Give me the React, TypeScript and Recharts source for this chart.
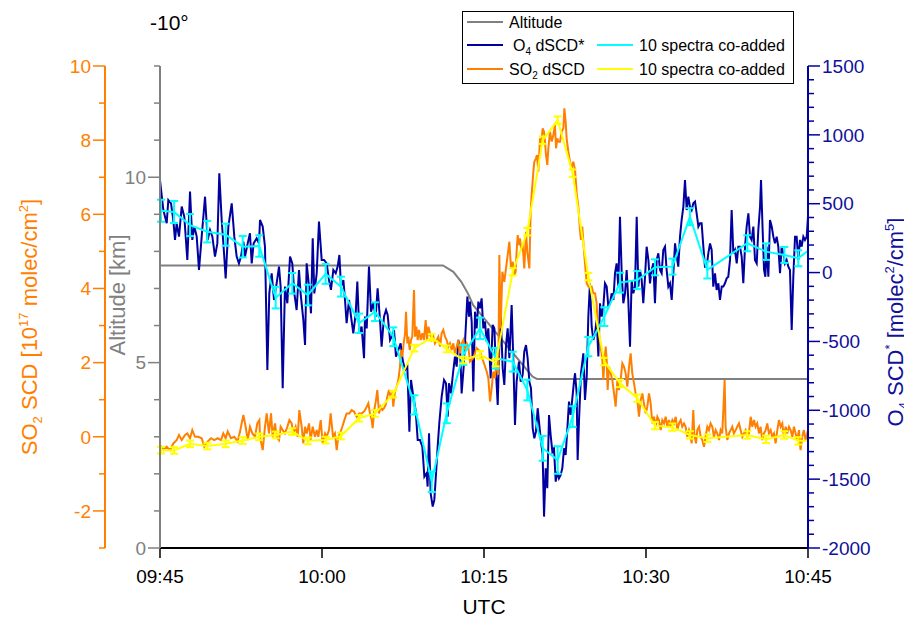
import React from 'react';
import { LineChart, Line, XAxis, YAxis, ErrorBar } from 'recharts';

// ---------- ticks ----------
const TIME_TICKS = [0, 15, 30, 45, 60];
const TIME_LABELS = ['09:45', '10:00', '10:15', '10:30', '10:45'];
const SO2_TICKS = [-3, -2, -1, 0, 1, 2, 3, 4, 5, 6, 7, 8, 9, 10];
const SO2_LABELED = [-2, 0, 2, 4, 6, 8, 10];
const ALT_TICKS = [0, 1, 2, 3, 4, 5, 6, 7, 8, 9, 10, 11, 12, 13];
const ALT_LABELED = [0, 5, 10];
const O4_TICKS = [-2000, -1900, -1800, -1700, -1600, -1500, -1400, -1300, -1200, -1100, -1000, -900, -800, -700, -600, -500, -400, -300, -200, -100, 0, 100, 200, 300, 400, 500, 600, 700, 800, 900, 1000, 1100, 1200, 1300, 1400, 1500];
const O4_LABELED = [-2000, -1500, -1000, -500, 0, 500, 1000, 1500];

// ---------- data (t = minutes after 09:45) ----------
const ALTITUDE: [number, number][] = [
  [0, 7.62], [26.2, 7.62], [27.16, 7.45], [27.9, 7.18], [28.5, 6.87], [29.0, 6.55], [34.5, 4.62], [34.9, 4.56], [60, 4.56],
];

const O4_RAW: [number, number][] = [
  [0, 672], [0.31, 454], [0.62, 358], [0.77, 527], [1.02, 503], [1.23, 382], [1.39, 237], [1.54, 358], [1.76, 261], [2.01, 479], [2.25, 406], [2.53, 92], [2.78, 588], [2.99, 237], [3.18, 334], [3.4, 261], [3.61, 19], [3.86, 261], [4.17, 551], [4.41, 237], [4.63, 309], [4.85, 261], [5.09, 116], [5.31, 212], [5.49, 721], [5.71, 382], [5.93, 140], [6.08, -42], [6.33, 334], [6.64, 503], [6.88, 261], [7.1, 116], [7.31, 67], [7.5, 116], [7.72, 224], [7.87, 116], [8.12, 212], [8.33, 285], [8.49, 67], [8.67, 212], [8.95, 249], [9.17, 212],
  [9.26, 382], [9.51, 334], [9.72, 188], [9.94, -707], [10.12, -151], [10.34, -5], [10.56, -199], [10.8, -78], [11.02, 43], [11.17, -102], [11.36, -840], [11.57, -102], [11.79, -223], [12.04, 116], [12.25, 67], [12.44, -151], [12.65, -272], [12.87, 19], [13.02, -151], [13.27, -344], [13.43, -526], [13.58, 67], [13.8, -102], [13.98, -296], [14.14, 249], [14.29, -151], [14.51, -5], [14.72, 370], [14.97, 92], [15.19, 92], [15.43, 67], [15.65, -54], [15.83, -126], [16.05, 19], [16.27, -5], [16.45, 43], [16.61, 128], [16.76, -102], [16.98, -54], [17.13, -199], [17.28, -368], [17.5, -199], [17.69, -320], [17.9, -441], [18.12, -296], [18.27, -66], [18.46, -441], [18.67, -393], [18.89, -622],
  [18.98, -320], [19.14, -405], [19.35, 43], [19.54, -284], [19.75, -223], [19.97, -320], [20.15, -114], [20.37, -344], [20.52, -538], [20.74, -320], [20.93, -272], [21.08, -308], [21.3, -489], [21.45, -465], [21.67, -417], [21.85, -610], [22.07, -562], [22.28, -514], [22.47, -635], [22.69, -707], [22.9, -683], [23.09, -1155], [23.24, -780], [23.46, -901], [23.67, -998], [23.86, -1215], [24.07, -1215], [24.29, -1264], [24.48, -1482], [24.69, -1457], [24.78, -1554], [24.91, -1167], [25.06, -1603], [25.25, -1699], [25.4, -1651], [25.56, -1457], [25.71, -1264], [25.86, -1094], [26.08, -901], [26.3, -780], [26.48, -804], [26.64, -1046], [26.76, -804], [26.94, -877], [27.13, -731], [27.31, -610], [27.47, -683], [27.62, -489], [27.78, -538], [27.93, -877], [28.12, -683], [28.3, -417], [28.46, -175], [28.61, -320],
  [28.7, -211], [28.86, -356], [29.01, -864], [29.17, -284], [29.32, -405], [29.48, -211], [29.63, -260], [29.78, -187], [29.94, -405], [30.09, -356], [30.25, -501], [30.4, -405], [30.62, -768], [30.8, -380], [30.96, -405], [31.11, -719], [31.27, -961], [31.42, -526], [31.54, -284], [31.73, -695], [31.88, -816], [32.04, -526], [32.19, -405], [32.35, -622], [32.56, -235], [32.72, -647], [32.87, -1106], [33.02, -792], [33.24, -647], [33.4, -792], [33.58, -743], [33.73, -574], [33.89, -526], [34.04, -622], [34.2, -792], [34.35, -840], [34.51, -1131], [34.66, -1203], [34.81, -1155], [34.97, -985], [35.12, -1106], [35.28, -1227], [35.43, -1324], [35.56, -1772], [35.71, -1421], [35.86, -1566], [36.02, -1034], [36.17, -1179], [36.33, -1300], [36.48, -1276], [36.64, -1518], [36.79, -1445], [36.94, -1494], [37.1, -1469], [37.25, -1421], [37.41, -1276], [37.56, -1324], [37.72, -1131], [37.87, -937], [38.02, -1034], [38.18, -913], [38.33, -792],
  [38.43, -731], [38.58, -876], [38.67, -1361], [38.8, -1070], [38.98, -731], [39.2, -586], [39.35, -925], [39.51, -756], [39.66, -320], [39.81, -78], [39.97, -393], [40.12, -489], [40.28, -441], [40.43, -344], [40.59, -610], [40.74, -223], [40.9, -320], [41.05, -247], [41.2, -78], [41.36, -102], [41.51, -247], [41.67, -223], [41.82, -151], [41.98, -199], [42.13, -5], [42.28, 67], [42.44, -102], [42.59, 406], [42.75, -5], [42.9, -223], [43.06, -151], [43.21, 19], [43.36, -199], [43.52, -538], [43.67, -54], [43.83, -151], [43.98, -102], [44.14, 406], [44.29, -102], [44.44, 19], [44.6, -54], [44.75, -223], [44.91, -30], [45.06, 188], [45.22, 92], [45.37, -78], [45.52, 19], [45.68, 67], [45.83, -223], [45.99, 92], [46.14, 140], [46.3, 19], [46.45, -5], [46.6, 164], [46.76, 188], [46.91, 19], [47.07, -102], [47.22, -78], [47.38, -199], [47.53, -5], [47.69, 212], [47.84, 116], [47.99, 43], [48.15, 261], [48.3, 382], [48.46, 479], [48.61, 672], [48.77, 454], [48.92, 551],
  [49.07, 479], [49.23, 454], [49.38, 503], [49.54, 515], [49.69, 430], [49.85, 334], [50.0, 358], [50.15, 358], [50.31, 188], [50.46, 43], [50.62, 43], [50.77, 140], [50.93, 212], [51.08, 164], [51.23, -102], [51.39, -5], [51.54, -126], [51.7, -78], [51.85, -199], [52.01, -102], [52.16, -102], [52.31, -78], [52.47, -42], [52.62, -30], [52.78, 92], [52.93, 454], [53.09, 140], [53.24, 164], [53.4, 67], [53.55, 188], [53.7, 188], [53.86, 116], [54.01, -78], [54.17, 188], [54.32, 334], [54.48, 430], [54.63, 261], [54.78, 237], [54.94, 334], [55.09, 92], [55.25, 67], [55.4, 309], [55.56, 479], [55.65, 672], [55.8, 309], [55.93, 19], [56.05, -30], [56.17, 188], [56.33, -30], [56.48, 382], [56.64, 334], [56.79, 261], [56.94, 212], [57.1, 261], [57.25, 188], [57.41, -5], [57.56, 188], [57.72, 140], [57.87, 67], [58.02, 92], [58.18, 43], [58.33, 19], [58.49, -417], [58.64, -30], [58.8, 261], [58.95, 261], [59.1, 92], [59.26, 237], [59.41, 188], [59.57, 261], [59.72, 237], [59.88, 261], [60, 406],
];

const O4_AVG: [number, number, number][] = [
  [0.09, 449, 80], [1.3, 440, 80], [2.78, 345, 80], [4.38, 297, 78], [6.08, 275, 80], [7.66, 188, 78], [9.19, 193, 78], [10.71, -182, 78], [12.25, -78, 75], [13.68, -163, 75], [15.34, -10, 72], [16.76, -102, 72], [18.43, -368, 70], [19.91, -284, 68], [21.6, -466, 68], [23.55, -961, 70], [25.16, -1518, 75], [26.55, -1022, 72], [28.08, -598, 72], [29.63, -405, 78], [31.08, -622, 75], [32.66, -647, 72], [34.01, -853, 75], [35.44, -1276, 90], [36.82, -1361, 100], [38.21, -1046, 75], [39.66, -538, 70], [41.14, -320, 68], [42.59, -73, 72], [44.19, -54, 65], [45.83, 38, 58], [47.44, 43, 58], [49.07, 406, 62], [50.68, 19, 62], [54.38, 213, 58], [56.11, 152, 60], [57.81, 128, 58], [59.1, 104, 58], [60, 159, 0],
];

const SO2_RAW: [number, number][] = [
  [0, -0.22], [0.31, -0.36], [0.62, -0.27], [0.93, -0.36], [1.23, -0.18], [1.54, -0.09], [1.76, 0.05], [2.01, -0.09], [2.32, 0.05], [2.53, 0.09], [2.78, -0.04], [2.99, 0.18], [3.24, 0.0], [3.55, 0.0], [3.86, -0.04], [4.11, -0.27], [4.41, -0.13], [4.72, -0.04], [5.02, -0.09], [5.34, -0.04], [5.65, -0.09], [5.86, 0.09], [6.08, -0.04], [6.27, 0.14], [6.57, -0.04], [6.88, 0.0], [7.19, -0.13], [7.41, 0.14], [7.72, 0.59], [7.93, 0.27], [8.12, -0.09], [8.33, 0.27], [8.55, 0.09], [8.8, 0.0], [9.01, 0.36], [9.2, 0.45],
  [9.26, 0.0], [9.51, -0.36], [9.72, 0.27], [9.88, 0.63], [10.09, 0.09], [10.28, 0.63], [10.43, 0.0], [10.65, 0.36], [10.8, 0.0], [11.02, -0.09], [11.17, 0.27], [11.36, 0.18], [11.57, 0.09], [11.79, 0.27], [11.98, 0.45], [12.19, 0.36], [12.35, 0.09], [12.56, 0.27], [12.75, 0.0], [12.9, 0.72], [13.12, 0.27], [13.27, -0.18], [13.43, 0.27], [13.58, 0.09], [13.8, 0.36], [13.95, -0.09], [14.14, 0.27], [14.35, 0.0], [14.51, 0.18], [14.66, 0.0], [14.88, 0.45], [15.06, -0.18], [15.28, 0.09], [15.43, 0.0], [15.65, 0.18], [15.8, 0.63], [16.02, 0.0], [16.2, 0.09], [16.36, -0.36], [16.51, 0.0], [16.67, 0.09], [16.88, 0.27], [17.07, 0.45], [17.28, 0.63], [17.53, 0.63], [17.75, 0.72], [17.96, 0.68], [18.21, 0.54], [18.43, 0.63], [18.67, 0.63], [18.89, 0.68],
  [18.98, 0.72], [19.14, 0.81], [19.29, 0.9], [19.44, 0.63], [19.6, 0.45], [19.69, 0.23], [19.84, 0.72], [20.0, 0.99], [20.12, 1.26], [20.28, 0.63], [20.43, 0.81], [20.59, 0.72], [20.74, 0.77], [20.9, 0.86], [21.05, 1.08], [21.2, 1.26], [21.36, 1.08], [21.51, 1.17], [21.6, 0.81], [21.76, 1.22], [21.91, 1.35], [22.07, 1.53], [22.22, 1.89], [22.31, 2.34], [22.44, 2.16], [22.56, 2.52], [22.69, 2.79], [22.78, 3.37], [22.9, 2.52], [22.99, 2.7], [23.12, 2.34], [23.24, 2.61], [23.36, 2.7], [23.52, 3.96], [23.61, 2.7], [23.73, 2.97], [23.86, 2.61], [23.98, 2.88], [24.14, 2.61], [24.29, 2.79], [24.44, 2.61], [24.6, 3.15], [24.72, 2.61], [24.85, 2.97], [25.0, 2.79], [25.15, 2.61], [25.31, 2.7], [25.46, 2.52], [25.62, 2.61], [25.77, 2.7], [25.93, 2.43], [26.08, 2.79], [26.23, 2.88], [26.39, 2.7], [26.54, 2.61], [26.7, 2.43], [26.85, 2.52], [27.01, 2.34], [27.16, 2.52], [27.31, 2.25], [27.47, 2.43], [27.62, 2.61], [27.78, 2.25], [27.93, 2.52], [28.09, 2.61], [28.24, 2.34], [28.4, 2.52], [28.55, 2.43],
  [28.7, 2.03], [29.01, 2.12], [29.32, 2.39], [29.63, 2.3], [29.94, 2.03], [30.25, 1.76], [30.4, 1.58], [30.56, 0.95], [30.71, 1.31], [30.86, 1.76], [31.02, 1.58], [31.17, 2.03], [31.33, 1.67], [31.42, 4.9], [31.54, 2.92], [31.7, 4.45], [31.88, 4.18], [32.04, 4.54], [32.19, 4.9], [32.35, 5.26], [32.5, 4.54], [32.66, 4.72], [32.81, 4.36], [32.93, 4.45], [33.02, 4.99], [33.12, 5.44], [33.24, 5.17], [33.33, 5.35], [33.43, 5.08], [33.58, 5.17], [33.73, 4.54], [33.89, 5.53], [34.01, 4.99], [34.2, 4.54], [34.32, 6.07], [34.41, 6.52], [34.57, 7.15], [34.66, 7.42], [34.81, 7.51], [34.91, 7.6], [35.03, 7.15], [35.19, 8.05], [35.28, 7.87], [35.43, 8.32], [35.56, 8.23], [35.65, 7.96], [35.74, 7.6], [35.86, 7.33], [35.96, 7.78], [36.11, 8.23], [36.27, 7.96], [36.42, 8.14], [36.57, 8.41], [36.67, 7.78], [36.79, 8.05], [36.88, 7.96], [37.04, 7.96], [37.19, 8.23], [37.35, 8.32], [37.44, 8.86], [37.56, 8.5], [37.65, 8.05], [37.81, 7.69], [37.96, 7.42], [38.11, 7.24], [38.27, 7.42],
  [38.43, 7.2], [38.58, 6.57], [38.73, 6.21], [38.89, 5.58], [38.98, 5.31], [39.1, 5.67], [39.23, 5.13], [39.35, 4.68], [39.51, 4.14], [39.66, 4.05], [39.81, 4.05], [39.97, 4.05], [40.12, 3.87], [40.28, 3.87], [40.43, 3.6], [40.52, 2.97], [40.65, 2.79], [40.8, 2.43], [40.96, 2.07], [41.05, 1.53], [41.14, 1.98], [41.27, 2.43], [41.36, 2.07], [41.45, 1.26], [41.57, 1.89], [41.73, 1.71], [41.88, 1.53], [42.04, 1.17], [42.19, 0.81], [42.35, 1.53], [42.5, 1.26], [42.65, 1.53], [42.81, 1.98], [42.96, 1.89], [43.12, 1.71], [43.27, 1.35], [43.43, 1.89], [43.58, 2.25], [43.73, 1.71], [43.89, 1.44], [44.04, 1.17], [44.2, 0.99], [44.35, 0.54], [44.51, 0.99], [44.66, 1.17], [44.81, 0.9], [44.97, 0.63], [45.12, 0.81], [45.28, 1.17], [45.43, 0.9], [45.59, 0.36], [45.74, 0.54], [45.9, 0.27], [46.05, 0.54], [46.2, 0.45], [46.36, 0.18], [46.51, 0.45], [46.67, 0.36], [46.82, 0.54], [46.98, 0.27], [47.13, 0.45], [47.28, 0.27], [47.44, 0.45], [47.59, 0.36], [47.75, 0.54], [47.9, 0.18], [48.06, 0.36], [48.21, 0.45], [48.36, 0.27], [48.52, 0.36], [48.67, 0.27], [48.83, 0.0], [48.98, 0.18],
  [49.07, 0.09], [49.23, -0.18], [49.38, 0.72], [49.47, 0.09], [49.63, -0.18], [49.75, 0.18], [49.91, 0.27], [50.06, 0.0], [50.21, -0.09], [50.37, -0.27], [50.52, 0.0], [50.68, 0.27], [50.83, 0.18], [50.98, 0.36], [51.14, 0.27], [51.29, 0.0], [51.45, 0.18], [51.6, 0.09], [51.76, -0.09], [51.91, 0.18], [52.06, 0.09], [52.16, 0.72], [52.28, 1.53], [52.37, 0.27], [52.53, -0.09], [52.68, 0.09], [52.84, 0.18], [52.99, 0.27], [53.14, 0.09], [53.3, 0.18], [53.45, 0.27], [53.61, 0.36], [53.76, 0.18], [53.92, 0.0], [54.07, 0.09], [54.22, 0.18], [54.38, 0.0], [54.53, 0.09], [54.69, 0.54], [54.84, 0.27], [55.0, 0.45], [55.15, 0.27], [55.3, 0.36], [55.46, 0.09], [55.61, 0.27], [55.77, -0.09], [55.92, 0.09], [56.08, 0.18], [56.23, 0.36], [56.38, 0.09], [56.54, 0.18], [56.69, 0.0], [56.85, 0.09], [57.0, -0.18], [57.16, 0.18], [57.31, 0.45], [57.47, 0.27], [57.62, 0.36], [57.77, 0.0], [57.93, 0.27], [58.08, 0.09], [58.24, 0.27], [58.39, 0.18], [58.55, 0.0], [58.7, 0.27], [58.85, 0.09], [59.01, -0.09], [59.16, 0.18], [59.31, -0.36], [59.47, 0.0], [59.62, 0.18], [59.78, -0.09], [59.93, 0.09], [60, 0.18],
];

const SO2_AVG: [number, number, number][] = [
  [0.09, -0.36, 0.09], [1.3, -0.37, 0.09], [2.78, -0.19, 0.09], [4.38, -0.25, 0.09], [6.08, -0.19, 0.09], [7.66, -0.1, 0.09], [9.19, 0.0, 0.09], [10.71, 0.05, 0.09], [12.25, 0.14, 0.09], [13.68, -0.11, 0.09], [15.34, -0.09, 0.09], [16.76, 0.02, 0.09], [18.43, 0.5, 0.09], [19.91, 0.63, 0.09], [21.6, 1.15, 0.09], [23.55, 2.39, 0.09], [25.16, 2.68, 0.09], [26.55, 2.37, 0.09], [28.08, 2.07, 0.09], [29.63, 2.21, 0.1], [31.08, 2.0, 0.1], [32.66, 4.45, 0.1], [34.01, 5.53, 0.1], [35.44, 8.0, 0.1], [36.82, 8.54, 0.1], [38.21, 7.11, 0.1], [39.66, 4.32, 0.1], [41.14, 2.03, 0.1], [42.59, 1.44, 0.1], [44.19, 1.04, 0.1], [45.83, 0.3, 0.1], [47.44, 0.26, 0.1], [49.07, 0.05, 0.1], [50.68, -0.04, 0.1], [54.38, 0.05, 0.1], [56.11, -0.07, 0.1], [57.81, 0.05, 0.1], [59.1, -0.11, 0.1], [60, -0.11, 0],
];

// ---------- build tables ----------
const altData = ALTITUDE.map(([t, v]) => ({ t, v }));
const o4Raw = O4_RAW.map(([t, v]) => ({ t, v }));
const o4Avg = O4_AVG.map(([t, v, e]) => ({ t, v, e }));
const so2Raw = SO2_RAW.map(([t, v]) => ({ t, v }));
const so2Avg = SO2_AVG.map(([t, v, e]) => ({ t, v, e }));

// ---------- colours ----------
const ORANGE = '#ff7f00';
const GRAY = '#808080';
const NAVY = '#0000a0';
const NAVY_TXT = '#10109a';
const CYAN = '#00ffff';
const YELLOW = '#ffff00';

const FONT = '"Liberation Sans", Arial, sans-serif';
const TICK_FS = 19;
const OFF = 14; // tickSize + tickMargin

function leftTick(labeled: number[], color: string) {
  return (props: any) => {
    const { x, y, payload } = props;
    const v = payload.value;
    const major = labeled.includes(v);
    const ax = x + OFF;
    return (
      <g>
        <line x1={ax - (major ? 12 : 6)} x2={ax} y1={y} y2={y} stroke={color} strokeWidth={1.5} />
        {major && (
          <text x={x} y={y} dy="0.355em" textAnchor="end" fill={color} fontSize={TICK_FS} fontFamily={FONT}>
            {v}
          </text>
        )}
      </g>
    );
  };
}

function rightTick(labeled: number[], color: string, txtColor: string) {
  return (props: any) => {
    const { x, y, payload } = props;
    const v = payload.value;
    const major = labeled.includes(v);
    const ax = x - OFF;
    return (
      <g>
        <line x1={ax} x2={ax + (major ? 12 : 6)} y1={y} y2={y} stroke={color} strokeWidth={1.5} />
        {major && (
          <text x={x} y={y} dy="0.355em" textAnchor="start" fill={txtColor} fontSize={TICK_FS} fontFamily={FONT}>
            {v}
          </text>
        )}
      </g>
    );
  };
}

const XTick = (props: any) => {
  const { x, y, payload } = props;
  const i = TIME_TICKS.indexOf(payload.value);
  const ay = y - 22;
  return (
    <g>
      <line x1={x} x2={x} y1={ay} y2={ay + 10} stroke="#000" strokeWidth={1.5} />
      <text x={x} y={y} dy="0.71em" textAnchor="middle" fill="#000" fontSize={TICK_FS} fontFamily={FONT}>
        {i >= 0 ? TIME_LABELS[i] : ''}
      </text>
    </g>
  );
};

const Overlay = () => (
  <svg width={904} height={611} style={{ position: 'absolute', left: 0, top: 0, pointerEvents: 'none' }} fontFamily={FONT}>
    <text x={142} y={22} fontSize={21} fill="#000">-10°</text>
    {/* legend */}
    <rect x={454.5} y={3.5} width={331} height={72} fill="#fff" stroke="#000" strokeWidth={1} />
    <line x1={459} x2={495} y1={14} y2={14} stroke={GRAY} strokeWidth={2} />
    <text x={501} y={19.5} fontSize={16} fill="#000">Altitude</text>
    <line x1={459} x2={495} y1={37} y2={37} stroke={NAVY} strokeWidth={2} />
    <text x={505} y={42.5} fontSize={16} fill="#000">O<tspan dy={4} fontSize={10}>4</tspan><tspan dy={-4}> dSCD*</tspan></text>
    <line x1={589} x2={625} y1={37} y2={37} stroke={CYAN} strokeWidth={2} />
    <text x={631} y={42.5} fontSize={16} fill="#000">10 spectra co-added</text>
    <line x1={459} x2={495} y1={61} y2={61} stroke={ORANGE} strokeWidth={2} />
    <text x={501} y={66.5} fontSize={16} fill="#000">SO<tspan dy={4} fontSize={10}>2</tspan><tspan dy={-4}> dSCD</tspan></text>
    <line x1={589} x2={625} y1={61} y2={61} stroke={YELLOW} strokeWidth={2} />
    <text x={631} y={66.5} fontSize={16} fill="#000">10 spectra co-added</text>
    {/* axis titles */}
    <text transform="translate(29,319) rotate(-90)" textAnchor="middle" fontSize={22} fill={ORANGE}>
      SO<tspan dy={5} fontSize={13}>2</tspan><tspan dy={-5}> SCD [10</tspan><tspan dy={-9} fontSize={13}>17</tspan><tspan dy={9}> molec/cm</tspan><tspan dy={-9} fontSize={13}>2</tspan><tspan dy={9}>]</tspan>
    </text>
    <text transform="translate(117,287) rotate(-90)" textAnchor="middle" fontSize={22} fill={GRAY}>
      Altitude [km]
    </text>
    <text transform="translate(895,314) rotate(-90)" textAnchor="middle" fontSize={22} fill={NAVY_TXT}>
      O<tspan dy={5} fontSize={13}>4</tspan><tspan dy={-5}> SCD</tspan><tspan dy={-9} fontSize={13}>*</tspan><tspan dy={9}> [molec</tspan><tspan dy={-9} fontSize={13}>2</tspan><tspan dy={9}>/cm</tspan><tspan dy={-9} fontSize={13}>5</tspan><tspan dy={9}>]</tspan>
    </text>
    <text x={476} y={606} textAnchor="middle" fontSize={21} fill="#000">UTC</text>
  </svg>
);

export default function App() {
  return (
    <div style={{ position: 'relative', width: 904, height: 611, fontFamily: FONT }}>
      <LineChart width={904} height={611} margin={{ top: 58, right: 0, bottom: 0, left: 0 }}>
        <XAxis
          dataKey="t"
          type="number"
          domain={[0, 60]}
          allowDataOverflow
          ticks={TIME_TICKS}
          interval={0}
          height={71}
          tickSize={10}
          tickMargin={12}
          tickLine={false}
          axisLine={{ stroke: '#000', strokeWidth: 2 }}
          tick={XTick}
        />
        <YAxis
          yAxisId="alt"
          orientation="left"
          type="number"
          domain={[0, 13]}
          allowDataOverflow
          ticks={ALT_TICKS}
          interval={0}
          width={55}
          tickSize={12}
          tickMargin={2}
          tickLine={false}
          axisLine={{ stroke: GRAY, strokeWidth: 2 }}
          tick={leftTick(ALT_LABELED, GRAY)}
        />
        <YAxis
          yAxisId="so2"
          orientation="left"
          type="number"
          domain={[-3, 10]}
          allowDataOverflow
          ticks={SO2_TICKS}
          interval={0}
          width={97}
          tickSize={12}
          tickMargin={2}
          tickLine={false}
          axisLine={{ stroke: ORANGE, strokeWidth: 2 }}
          tick={leftTick(SO2_LABELED, ORANGE)}
        />
        <YAxis
          yAxisId="o4"
          orientation="right"
          type="number"
          domain={[-2000, 1500]}
          allowDataOverflow
          ticks={O4_TICKS}
          interval={0}
          width={104}
          tickSize={12}
          tickMargin={2}
          tickLine={false}
          axisLine={{ stroke: NAVY, strokeWidth: 2 }}
          tick={rightTick(O4_LABELED, NAVY, NAVY_TXT)}
        />
        <Line yAxisId="alt" data={altData} dataKey="v" stroke={GRAY} strokeWidth={2} dot={false} isAnimationActive={false} type="linear" />
        <Line yAxisId="o4" data={o4Raw} dataKey="v" stroke={NAVY} strokeWidth={2} dot={false} isAnimationActive={false} type="linear" />
        <Line yAxisId="so2" data={so2Raw} dataKey="v" stroke={ORANGE} strokeWidth={2} dot={false} isAnimationActive={false} type="linear" />
        <Line yAxisId="o4" data={o4Avg} dataKey="v" stroke={CYAN} strokeWidth={2} dot={false} isAnimationActive={false} type="linear">
          <ErrorBar dataKey="e" width={4} strokeWidth={2} stroke={CYAN} direction="y" />
        </Line>
        <Line yAxisId="so2" data={so2Avg} dataKey="v" stroke={YELLOW} strokeWidth={2} dot={false} isAnimationActive={false} type="linear">
          <ErrorBar dataKey="e" width={4} strokeWidth={2} stroke={YELLOW} direction="y" />
        </Line>
      </LineChart>
      <Overlay />
    </div>
  );
}
